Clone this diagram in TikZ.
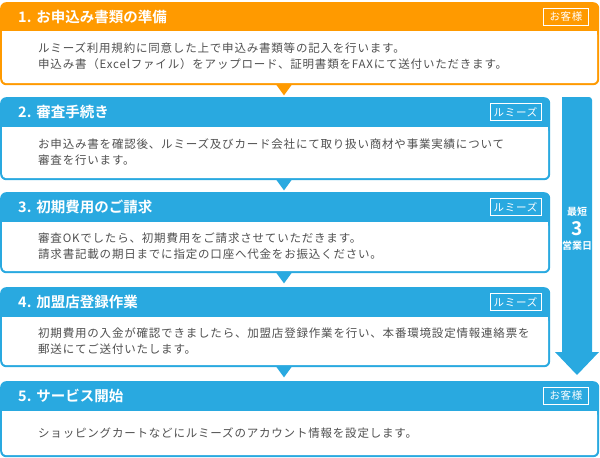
\documentclass[tikz,border=0pt]{standalone}
\usepackage{fontspec}
\usepackage{xcolor}
\usepackage{tikz}
\usetikzlibrary{positioning}
\newfontfamily\jpfont[LetterSpace=7]{Noto Sans CJK JP}
\newfontfamily\jpbold{Noto Sans CJK JP Bold}
\definecolor{stepOrange}{HTML}{FF9A00}
\definecolor{stepBlue}{HTML}{29A9E0}
\definecolor{bodyText}{HTML}{505050}

\begin{document}
\begin{tikzpicture}[x=1pt,y=-1pt,
frame/.style={shape=rectangle,rounded corners=6pt,anchor=north west,inner sep=0,minimum height=30},
bodyBox/.style={shape=rectangle,fill=white,rounded corners=4pt,anchor=north west,inner sep=0},
title/.style={anchor=west,text=white,font=\jpbold\fontsize{14.5}{16}\selectfont,inner sep=0},
badge/.style={draw=white,semithick,text=white,font=\jpfont\fontsize{10.5}{12}\selectfont,
    inner sep=0,minimum height=17},
bodyTxt/.style={anchor=west,align=left,text=bodyText,font=\jpfont\fontsize{11.5}{16.5}\selectfont,inner sep=0},
leadTxt/.style={text=white,font=\jpbold\fontsize{10}{12}\selectfont,inner sep=0}
]
\useasboundingbox (0,0) rectangle (600,458);
% step boxes
\node[frame,fill=stepOrange,minimum width=599,minimum height=83] (box1) at (0,2) {};
\node[frame,fill=stepBlue,minimum width=550,minimum height=83] (box2) at (0,97) {};
\node[frame,fill=stepBlue,minimum width=550,minimum height=81] (box3) at (0,192) {};
\node[frame,fill=stepBlue,minimum width=550,minimum height=80] (box4) at (0,287) {};
\node[frame,fill=stepBlue,minimum width=599,minimum height=76] (box5) at (0,381) {};
% white bodies
\node[bodyBox,minimum width=595,minimum height=52] (body1) at (2,31) {};
\node[bodyBox,minimum width=546,minimum height=51] (body2) at (2,127) {};
\node[bodyBox,minimum width=546,minimum height=49] (body3) at (2,222) {};
\node[bodyBox,minimum width=546,minimum height=48] (body4) at (2,317) {};
\node[bodyBox,minimum width=595,minimum height=44] (body5) at (2,411) {};
\foreach \b in {body1,body2,body3,body4,body5}
  \fill[white] (\b.north west) rectangle ([yshift=-6pt]\b.north east);
% pointers between steps
\foreach \a/\c in {box1/stepOrange,box2/stepBlue,box3/stepBlue,box4/stepBlue}
  \fill[\c] ([xshift=284pt]\a.south west) ++(-8,-1) -- ++(16,0) -- ++(-8,11) -- cycle;
% titles
\node[title] (t1) at (18,17) {1.\,\,お申込み書類の準備};
\node[title] (t2) at (18,112) {2.\,\,審査手続き};
\node[title] (t3) at (18,207) {3.\,\,初期費用のご請求};
\node[title] (t4) at (18,302) {4.\,\,加盟店登録作業};
\node[title] (t5) at (18,396) {5.\,\,サービス開始};
% badges
\node[badge,minimum width=45] (g1) at (566,16.5) {お客様};
\node[badge,minimum width=51] (g2) at (515.5,112) {ルミーズ};
\node[badge,minimum width=51] (g3) at (515.5,207) {ルミーズ};
\node[badge,minimum width=51] (g4) at (515.5,302) {ルミーズ};
\node[badge,minimum width=45] (g5) at (566,396) {お客様};
% texts
\node[bodyTxt] (x1) at (38,56) {ルミーズ利用規約に同意した上で申込み書類等の記入を行います。\\
  申込み書（Excelファイル）をアップロード、証明書類をFAXにて送付いただきます。};
\node[bodyTxt] (x2) at (38,152) {お申込み書を確認後、ルミーズ及びカード会社にて取り扱い商材や事業実績について\\
  審査を行います。};
\node[bodyTxt] (x3) at (38,246) {審査OKでしたら、初期費用をご請求させていただきます。\\
  請求書記載の期日までに指定の口座へ代金をお振込ください。};
\node[bodyTxt] (x4) at (38,341) {初期費用の入金が確認できましたら、加盟店登録作業を行い、本番環境設定情報連絡票を\\
  郵送にてご送付いたします。};
\node[bodyTxt] (x5) at (38,433) {ショッピングカートなどにルミーズのアカウント情報を設定します。};
% lead time arrow
\coordinate (arTop) at (577,97);
\coordinate (arTip) at (577,375);
\fill[stepBlue,rounded corners=3pt] ([xshift=-15pt]arTop) -- ([xshift=15pt]arTop)
  [sharp corners] -- (592,352) -- (599,352) -- (arTip) -- (555,352) -- (562,352) -- cycle;
\node[leadTxt] (lead1) at (577,212) {最短};
\node[leadTxt,font=\jpbold\fontsize{19}{19}\selectfont] (lead2) at (577,229) {3};
\node[leadTxt] (lead3) at (577,246) {営業日};
\end{tikzpicture}
\end{document}
